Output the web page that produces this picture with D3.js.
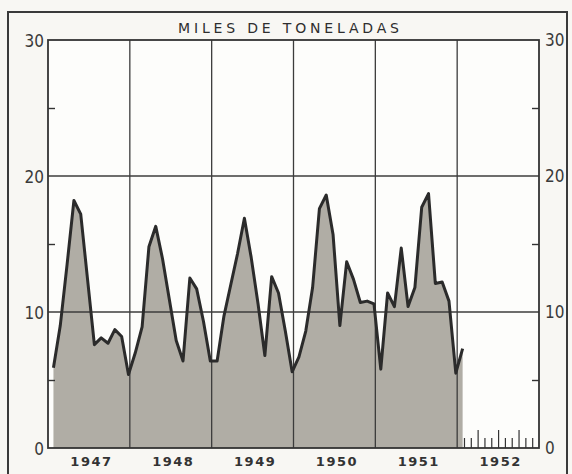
<!DOCTYPE html>
<html>
<head>
<meta charset="utf-8">
<script src="https://cdn.jsdelivr.net/npm/d3@7"></script>
<style>
  html, body { margin: 0; padding: 0; background: #f7f6f1; }
  svg { display: block; }
  .num { font-family: "Liberation Sans Narrow", "DejaVu Sans Condensed", sans-serif; font-size: 17px; fill: #3a3a3a; }
  .year { font-family: "DejaVu Sans", sans-serif; font-size: 13px; font-weight: bold; letter-spacing: 1.5px; fill: #333; }
  .title { font-family: "DejaVu Sans", sans-serif; font-size: 14px; fill: #2e2e2e; }
</style>
</head>
<body>
<svg id="chart" width="572" height="474"></svg>
<script>
// monthly values, thousands of tonnes
const years = ["1947", "1948", "1949", "1950", "1951", "1952"];
const v1947 = [5.9, 9.0, 13.5, 18.2, 17.2, 12.4, 7.6, 8.1, 7.7, 8.7, 8.2, 5.4];
const v1948 = [7.0, 8.9, 14.8, 16.3, 13.9, 10.9, 7.9, 6.4, 12.5, 11.7, 9.3, 6.4];
const v1949 = [6.4, 9.7, 12.0, 14.3, 16.9, 14.0, 10.6, 6.8, 12.6, 11.4, 8.6, 5.6];
const v1950 = [6.7, 8.6, 11.8, 17.6, 18.6, 15.7, 9.0, 13.7, 12.4, 10.7, 10.8, 10.6];
const v1951 = [5.8, 11.4, 10.4, 14.7, 10.4, 11.8, 17.7, 18.7, 12.1, 12.2, 10.8, 5.5];
const v1952 = [7.3];
const yLabels = [0, 10, 20, 30];
const yMinor = [5, 15, 25];
const title = "MILES DE TONELADAS";

const svg = d3.select("#chart");
const L = 48, R = 539, T = 40, B = 448;

// month index -> value, each point sits near the end of its month
const series = [v1947, v1948, v1949, v1950, v1951, v1952]
  .flatMap((arr, yi) => arr.map((v, m) => ({ t: yi * 12 + m + 0.8, v })));

const x = d3.scaleLinear().domain([0, 72]).range([L, R]);
const y = d3.scaleLinear().domain([0, 30]).range([B, T]);

// outer frame
svg.append("rect").attr("x", 0).attr("y", 0).attr("width", 572).attr("height", 474).attr("fill", "#f8f7f3");
svg.append("path")
  .attr("d", "M8,480 L8,12 L567,12 L567,480")
  .attr("fill", "none").attr("stroke", "#3a3a3a").attr("stroke-width", 2);

// plot background
svg.append("rect").attr("x", L).attr("y", T).attr("width", R - L).attr("height", B - T).attr("fill", "#fdfdfb");

// area
const area = d3.area().x(d => x(d.t)).y0(y(0)).y1(d => y(d.v)).curve(d3.curveLinear);
svg.append("path").datum(series)
  .attr("d", area)
  .attr("fill", "#b0ada5");

// grid
const gGrid = svg.append("g").attr("stroke", "#3c3c3c").attr("stroke-width", 1.3);
[10, 20].forEach(v => gGrid.append("line").attr("x1", L).attr("x2", R).attr("y1", y(v)).attr("y2", y(v)));
[12, 24, 36, 48, 60].forEach(m => gGrid.append("line").attr("x1", x(m)).attr("x2", x(m)).attr("y1", T).attr("y2", B));

// plot border
svg.append("rect").attr("x", L).attr("y", T).attr("width", R - L).attr("height", B - T)
  .attr("fill", "none").attr("stroke", "#333").attr("stroke-width", 1.8);

// line
const line = d3.line().x(d => x(d.t)).y(d => y(d.v)).curve(d3.curveLinear);
svg.append("path").datum(series)
  .attr("d", line)
  .attr("fill", "none")
  .attr("stroke", "#2b2b2b")
  .attr("stroke-width", 3)
  .attr("stroke-linejoin", "round");

// axes: labels on both sides, small inward ticks at the fives
const styleAxis = g => {
  g.select(".domain").remove();
  g.selectAll("line").attr("stroke", "#333").attr("stroke-width", 1.4);
};
svg.append("g").attr("transform", `translate(${L},0)`)
  .call(d3.axisLeft(y).tickValues(yLabels).tickSize(0).tickPadding(4).tickFormat(d3.format("d")))
  .call(styleAxis)
  .call(g => g.selectAll("text").attr("class", "num").attr("font-size", null).attr("font-family", null).attr("dy", "0.4em"));
svg.append("g").attr("transform", `translate(${R},0)`)
  .call(d3.axisRight(y).tickValues(yLabels).tickSize(0).tickPadding(6).tickFormat(d3.format("d")))
  .call(styleAxis)
  .call(g => g.selectAll("text").attr("class", "num").attr("font-size", null).attr("font-family", null).attr("dy", "0.3em"));
svg.append("g").attr("transform", `translate(${L},0)`)
  .call(d3.axisRight(y).tickValues(yMinor).tickSize(7).tickFormat(""))
  .call(styleAxis);
svg.append("g").attr("transform", `translate(${R},0)`)
  .call(d3.axisLeft(y).tickValues(yMinor).tickSize(7).tickFormat(""))
  .call(styleAxis);

// month ticks in the empty 1952 span
const monthTicks = d3.range(61, 72);
svg.append("g").attr("transform", `translate(0,${B})`)
  .call(d3.axisTop(x).tickValues(monthTicks).tickSize(9).tickFormat(""))
  .call(styleAxis)
  .call(g => g.selectAll(".tick line").attr("stroke-width", 1.2).attr("y2", d => (d % 3 === 0 ? -18 : -10)));

// year labels
svg.append("g").attr("transform", `translate(0,${B})`)
  .call(d3.axisBottom(x).tickValues(years.map((_, i) => i * 12 + 6.3)).tickSize(0).tickPadding(9)
    .tickFormat((d, i) => years[i]))
  .call(styleAxis)
  .call(g => g.selectAll("text").attr("class", "year").attr("font-size", null).attr("font-family", null));

// title
svg.append("text").attr("class", "title")
  .attr("x", 288.5).attr("y", 33)
  .attr("text-anchor", "middle")
  .attr("textLength", 221).attr("lengthAdjust", "spacing")
  .text(title);
</script>
</body>
</html>
